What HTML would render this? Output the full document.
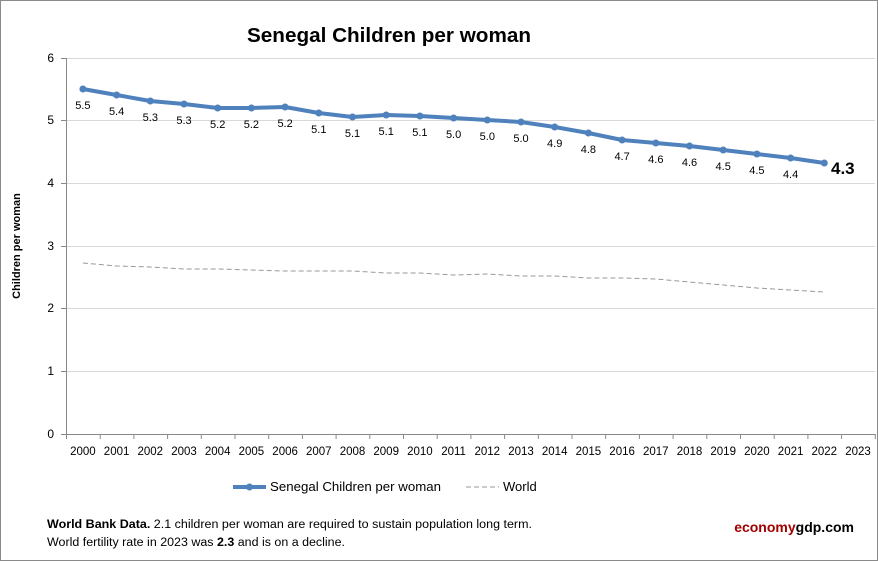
<!DOCTYPE html>
<html><head><meta charset="utf-8"><style>
html,body{margin:0;padding:0;background:#fff}
svg{display:block;font-family:"Liberation Sans",sans-serif}
</style></head><body>
<svg width="878" height="561" viewBox="0 0 878 561" xmlns="http://www.w3.org/2000/svg">
<rect x="0.5" y="0.5" width="877" height="560" fill="#fff" stroke="#8a8a8a"/>
<text x="389" y="42" font-size="20" font-weight="bold" text-anchor="middle" fill="#000" textLength="284" lengthAdjust="spacingAndGlyphs">Senegal Children per woman</text>
<g stroke="#d9d9d9" stroke-width="1">
<line x1="66" y1="58.5" x2="875" y2="58.5"/><line x1="66" y1="120.5" x2="875" y2="120.5"/>
<line x1="66" y1="183.5" x2="875" y2="183.5"/><line x1="66" y1="246.5" x2="875" y2="246.5"/>
<line x1="66" y1="308.5" x2="875" y2="308.5"/><line x1="66" y1="371.5" x2="875" y2="371.5"/>
</g>
<g stroke="#888" stroke-width="1">
<line x1="66.5" y1="58" x2="66.5" y2="434"/>
<line x1="66" y1="434.5" x2="875" y2="434.5"/>
<line x1="61" y1="58.5" x2="66" y2="58.5"/><line x1="61" y1="120.5" x2="66" y2="120.5"/><line x1="61" y1="183.5" x2="66" y2="183.5"/><line x1="61" y1="246.5" x2="66" y2="246.5"/><line x1="61" y1="308.5" x2="66" y2="308.5"/><line x1="61" y1="371.5" x2="66" y2="371.5"/><line x1="61" y1="434.5" x2="66" y2="434.5"/>
</g>
<g stroke="#888" id="ticks"></g>
<g font-size="12" text-anchor="end" fill="#000">
<text x="54" y="62">6</text><text x="54" y="124">5</text><text x="54" y="187">4</text><text x="54" y="250">3</text><text x="54" y="312">2</text><text x="54" y="375">1</text><text x="54" y="438">0</text>
</g>
<text transform="translate(20,246) rotate(-90)" font-size="11" font-weight="bold" text-anchor="middle">Children per woman</text>
<g id="xl" font-size="11.5" text-anchor="middle"></g>
<polyline fill="none" stroke="#999" stroke-width="1" stroke-dasharray="5,3" points="82.9,263 116.6,266 150.3,267 184,269 217.7,269 251.4,270 285.1,271 318.8,271 352.5,271 386.2,273 419.9,273 453.6,275 487.3,274 521,276 554.7,276 588.4,278 622.1,278 655.8,279 689.5,282 723.2,285 756.9,288 790.6,290 824.3,292"/>
<polyline id="sen" fill="none" stroke="#4f81bd" stroke-width="4" stroke-linejoin="round" points="82.9,89 116.6,95 150.3,101 184,104 217.7,108 251.4,108 285.1,107 318.8,113 352.5,117 386.2,115 419.9,116 453.6,118 487.3,120 521,122 554.7,127 588.4,133 622.1,140 655.8,143 689.5,146 723.2,150 756.9,154 790.6,158 824.3,163"/>
<g id="dots" fill="#4f81bd"></g>
<g id="vl" font-size="11" text-anchor="middle"></g>
<text x="831" y="174" font-size="17" font-weight="bold">4.3</text>
<line x1="233" y1="487" x2="266" y2="487" stroke="#4f81bd" stroke-width="4"/>
<circle cx="249.5" cy="487" r="3.5" fill="#4f81bd"/>
<text x="270" y="491" font-size="13" textLength="171" lengthAdjust="spacingAndGlyphs">Senegal Children per woman</text>
<line x1="466" y1="487" x2="499" y2="487" stroke="#999" stroke-dasharray="5,3"/>
<text x="503" y="491" font-size="13">World</text>
<text x="47" y="528" font-size="11.5" textLength="485" lengthAdjust="spacingAndGlyphs"><tspan font-weight="bold">World Bank Data.</tspan>   2.1 children per woman are required to sustain population long term.</text>
<text x="47" y="546" font-size="11.5" textLength="298" lengthAdjust="spacingAndGlyphs">World fertility rate in 2023 was <tspan font-weight="bold">2.3</tspan> and is on a decline.</text>
<text x="854" y="532" font-size="14" font-weight="bold" text-anchor="end"><tspan fill="#a00000">economy</tspan><tspan fill="#000">gdp.com</tspan></text>
</svg>
<script>
var ns="http://www.w3.org/2000/svg";
function el(p,t,a,txt){var e=document.createElementNS(ns,t);for(var k in a)e.setAttribute(k,a[k]);if(txt)e.textContent=txt;document.getElementById(p).appendChild(e);}
for(var i=0;i<=24;i++){var x=66.5+33.7*i;el("ticks","line",{x1:x,y1:434,x2:x,y2:439});}
for(var i=0;i<24;i++){el("xl","text",{x:82.9+33.7*i,y:455},String(2000+i));}
var ys=[89,95,101,104,108,108,107,113,117,115,116,118,120,122,127,133,140,143,146,150,154,158,163];
var lb=["5.5","5.4","5.3","5.3","5.2","5.2","5.2","5.1","5.1","5.1","5.1","5.0","5.0","5.0","4.9","4.8","4.7","4.6","4.6","4.5","4.5","4.4"];
for(var i=0;i<23;i++){var x=82.9+33.7*i;el("dots","circle",{cx:x,cy:ys[i],r:3.5});if(i<22)el("vl","text",{x:x,y:ys[i]+20},lb[i]);}
</script>
</body></html>
